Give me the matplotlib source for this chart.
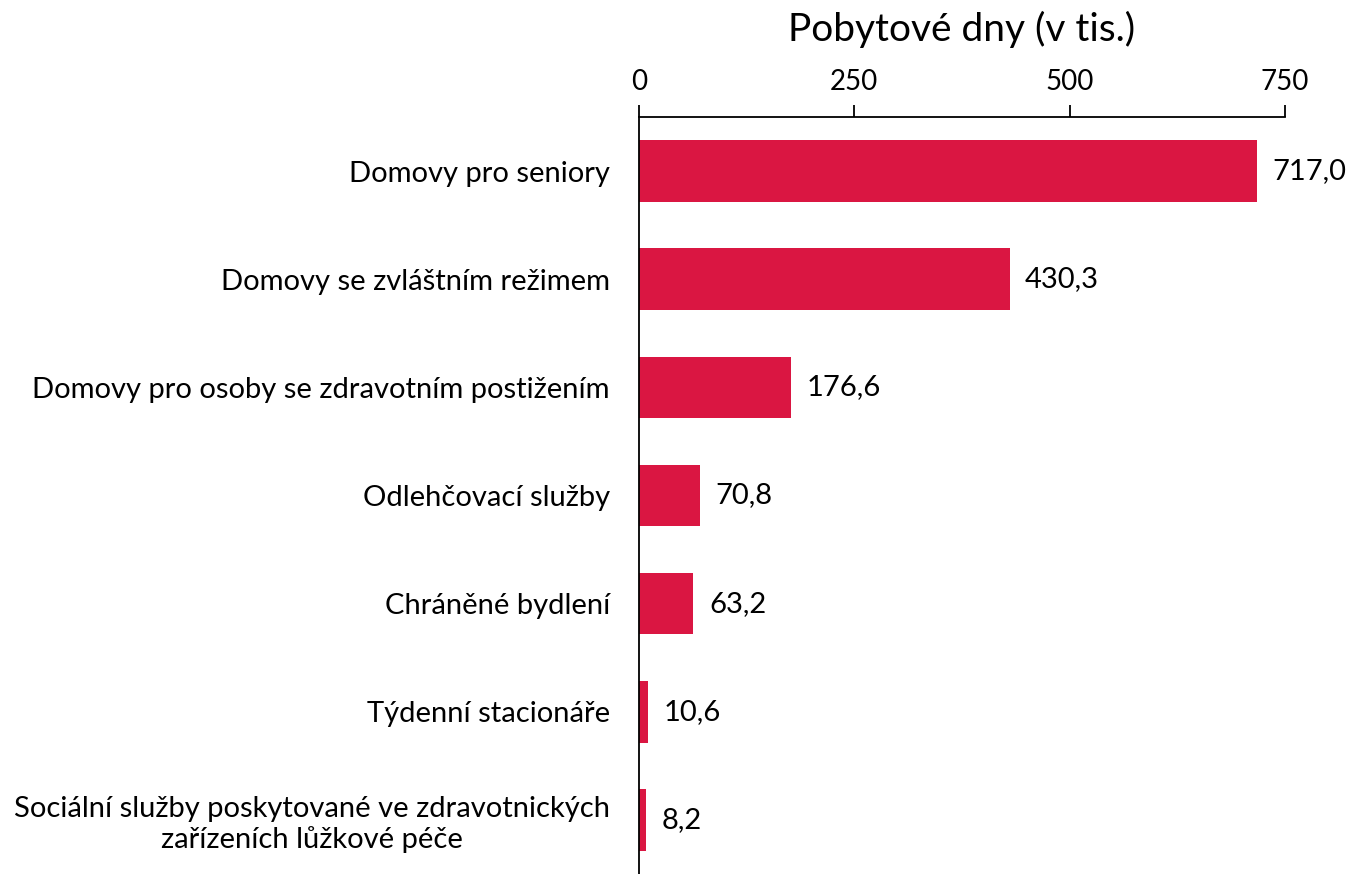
import matplotlib

matplotlib.use("Agg")
import matplotlib.pyplot as plt

plt.rcParams["font.family"] = ["Lato", "DejaVu Sans"]

categories = [
    "Domovy pro seniory",
    "Domovy se zvláštním režimem",
    "Domovy pro osoby se zdravotním postižením",
    "Odlehčovací služby",
    "Chráněné bydlení",
    "Týdenní stacionáře",
    "Sociální služby poskytované ve zdravotnických\nzařízeních lůžkové péče",
]
values = [717.0, 430.3, 176.6, 70.8, 63.2, 10.6, 8.2]
xticks = [0, 250, 500, 750]

fig = plt.figure(figsize=(13.5, 8.74), dpi=100)
ax = fig.add_axes([0.4733, 0.0, 0.4785, 0.8661])

pos = list(range(len(categories)))
ax.barh(pos, values, height=0.57, color="#DA1642")
ax.set_ylim(len(categories) - 0.5, -0.5)
ax.set_xlim(0, 750)
ax.set_yticks(pos)
ax.set_yticklabels(categories, fontsize=21, ha="right", multialignment="center")
ax.tick_params(axis="y", length=0, pad=21)
ax.xaxis.tick_top()
ax.set_xticks(xticks)
ax.set_xticklabels([str(t) for t in xticks], fontsize=20)
ax.tick_params(axis="x", direction="out", length=9, width=1.3, pad=7)
ax.xaxis.set_label_position("top")
ax.set_xlabel("Pobytové dny (v tis.)", fontsize=28, labelpad=20)
for s in ["right", "bottom"]:
    ax.spines[s].set_visible(False)
for s in ["left", "top"]:
    ax.spines[s].set_linewidth(1.3)

for y, v in zip(pos, values):
    ax.text(v + 18, y, f"{v:.1f}".replace(".", ","), va="center", ha="left",
            fontsize=21, clip_on=False)

fig.savefig("out.png", dpi=100)
